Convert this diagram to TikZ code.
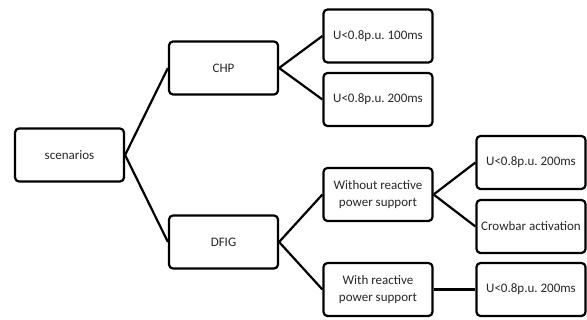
\documentclass[tikz,border=0pt]{standalone}
\usepackage{fontspec}
\setmainfont{Carlito}
\frenchspacing
\begin{document}
\begin{tikzpicture}[x=1pt,y=-1pt,
  box/.style={draw, line width=2.2pt, rounded corners=4pt, minimum width=109pt,
    minimum height=53pt, inner sep=0pt, align=center,
    font=\fontsize{13}{16.5}\selectfont, text=black!85},
  link/.style={line width=2.2pt}]
\useasboundingbox (0,0) rectangle (587,320);
% root and first level
\node[box] (root) at (69.5,155) {scenarios};
\node[box] (chp)  at (223.5,68) {CHP};
\node[box] (dfig) at (223.5,242) {DFIG};
% CHP branch
\node[box] (c1) at (378,36) {U<0.8p.u. 100ms};
\node[box] (c2) at (378,99.5) {U<0.8p.u. 200ms};
% DFIG branch
\node[box] (wo) at (378,194.5) {Without reactive\\power support};
\node[box] (wi) at (378,289.5) {With reactive\\power support};
\node[box] (wo1) at (531,162.5) {U<0.8p.u. 200ms};
\node[box] (wo2) at (531,226.5) {Crowbar activation};
\node[box] (wi1) at (531,289.5) {U<0.8p.u. 200ms};
% connectors
\draw[link] (root.east) -- (chp.west);
\draw[link] (root.east) -- (dfig.west);
\draw[link] (chp.east) -- (c1.west);
\draw[link] (chp.east) -- (c2.west);
\draw[link] (dfig.east) -- (wo.west);
\draw[link] (dfig.east) -- (wi.west);
\draw[link] (wo.east) -- (wo1.west);
\draw[link] (wo.east) -- (wo2.west);
\draw[link] (wi.east) -- (wi1.west);
\end{tikzpicture}
\end{document}
